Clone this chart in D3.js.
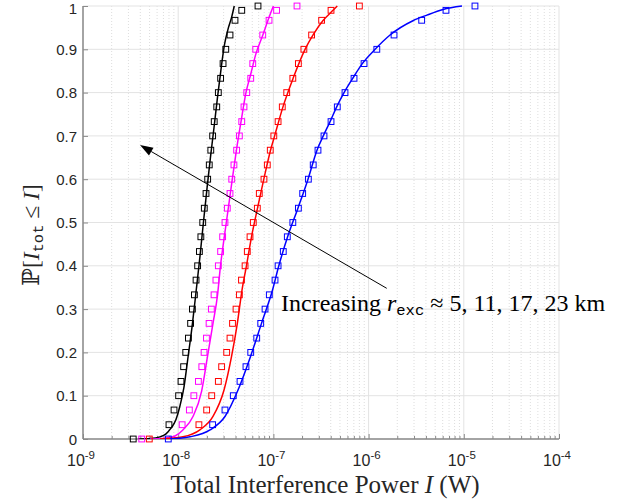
<!DOCTYPE html>
<html><head><meta charset="utf-8">
<script src="https://cdn.jsdelivr.net/npm/d3@7"></script>
<style>body{margin:0;background:#fff;} svg{display:block;}</style>
</head><body>
<svg id="chart" width="618" height="503"></svg>
<script>
// ---------- data ----------
const markerProb = [0,0.033,0.067,0.1,0.133,0.167,0.2,0.233,0.267,0.3,0.333,0.367,0.4,0.433,0.467,0.5,0.533,0.567,0.6,0.633,0.667,0.7,0.733,0.767,0.8,0.833,0.867,0.9,0.933,0.967,0.99,1];
const blackMarkers = [3.37e-9,8.0e-9,9.04e-9,1.01e-8,1.07e-8,1.14e-8,1.20e-8,1.28e-8,1.35e-8,1.41e-8,1.48e-8,1.54e-8,1.60e-8,1.67e-8,1.73e-8,1.81e-8,1.88e-8,1.96e-8,2.04e-8,2.12e-8,2.20e-8,2.30e-8,2.39e-8,2.54e-8,2.64e-8,2.79e-8,2.96e-8,3.16e-8,3.50e-8,3.95e-8,4.65e-8,6.89e-8];
const magentaMarkers = [4.14e-9,1.10e-8,1.31e-8,1.46e-8,1.63e-8,1.77e-8,1.87e-8,1.98e-8,2.11e-8,2.23e-8,2.38e-8,2.49e-8,2.64e-8,2.79e-8,2.93e-8,3.10e-8,3.28e-8,3.50e-8,3.65e-8,3.85e-8,4.11e-8,4.39e-8,4.65e-8,4.91e-8,5.25e-8,5.78e-8,6.07e-8,6.52e-8,7.73e-8,9.0e-8,1.08e-7,1.77e-7];
const redMarkers = [4.97e-9,1.65e-8,1.99e-8,2.25e-8,2.64e-8,2.86e-8,3.23e-8,3.50e-8,3.72e-8,4.05e-8,4.39e-8,4.62e-8,5.04e-8,5.32e-8,5.68e-8,6.15e-8,6.78e-8,7.11e-8,7.96e-8,8.63e-8,9.27e-8,1.01e-7,1.12e-7,1.24e-7,1.38e-7,1.60e-7,1.83e-7,2.09e-7,2.52e-7,3.21e-7,4.03e-7,8.0e-7];
const blueMarkers = [7.87e-9,2.30e-8,3.10e-8,3.79e-8,4.46e-8,5.15e-8,5.78e-8,6.68e-8,7.36e-8,8.17e-8,9.06e-8,1.04e-7,1.12e-7,1.27e-7,1.40e-7,1.60e-7,1.83e-7,2.03e-7,2.33e-7,2.62e-7,2.94e-7,3.40e-7,4.03e-7,4.69e-7,5.65e-7,7.03e-7,8.96e-7,1.22e-6,1.85e-6,3.61e-6,6.5e-6,1.31e-5];

const blackLineX = [3.78e-9,5.06e-9,6.44e-9,7.45e-9,8.40e-9,9.48e-9,1.04e-8,1.15e-8,1.27e-8,1.40e-8,1.54e-8,1.69e-8,1.84e-8,2.01e-8,2.18e-8,2.38e-8,2.59e-8,2.82e-8,3.06e-8,3.37e-8,3.65e-8,3.88e-8];
const blackLineP = [0,0.001,0.005,0.012,0.025,0.045,0.075,0.12,0.19,0.26,0.34,0.42,0.5,0.58,0.65,0.72,0.79,0.855,0.91,0.95,0.975,1];
const magentaLineX = [5.06e-9,7.27e-9,9.25e-9,1.12e-8,1.43e-8,1.76e-8,2.03e-8,2.32e-8,2.59e-8,2.78e-8,3.05e-8,3.36e-8,3.70e-8,4.09e-8,4.57e-8,5.15e-8,5.74e-8,6.56e-8,7.78e-8,8.77e-8,9.60e-8,1.0e-7];
const magentaLineP = [0,0.002,0.007,0.021,0.052,0.11,0.19,0.267,0.333,0.4,0.467,0.533,0.6,0.667,0.733,0.8,0.84,0.89,0.934,0.967,0.99,1];
const redLineX = [6.44e-9,1.12e-8,1.69e-8,2.32e-8,3.03e-8,3.63e-8,4.18e-8,4.68e-8,5.21e-8,5.89e-8,6.81e-8,7.93e-8,9.33e-8,1.03e-7,1.26e-7,1.61e-7,2.15e-7,2.62e-7,3.34e-7,4.23e-7,4.69e-7];
const redLineP = [0,0.005,0.021,0.052,0.113,0.19,0.267,0.344,0.4,0.467,0.533,0.6,0.667,0.7,0.767,0.833,0.9,0.934,0.967,0.99,1];
const blueLineX = [8.20e-9,1.33e-8,2.16e-8,3.10e-8,4.25e-8,5.74e-8,7.50e-8,9.79e-8,1.14e-7,1.41e-7,1.81e-7,2.31e-7,2.87e-7,3.34e-7,3.94e-7,4.62e-7,5.52e-7,6.81e-7,8.59e-7,1.17e-6,1.68e-6,2.92e-6,4.10e-6,6.05e-6,9.57e-6];
const blueLineP = [0,0.005,0.021,0.052,0.113,0.19,0.267,0.344,0.4,0.467,0.533,0.6,0.667,0.7,0.733,0.767,0.8,0.833,0.867,0.9,0.933,0.966,0.979,0.992,1];

const seriesColors = ["#000000","#ff00ff","#ff0000","#0000ff"];
const xTickValues = [1e-9,1e-8,1e-7,1e-6,1e-5,1e-4];
const xTickExponents = ["-9","-8","-7","-6","-5","-4"];
const yTickValues = [0,0.1,0.2,0.3,0.4,0.5,0.6,0.7,0.8,0.9,1];
const yTickLabels = ["0","0.1","0.2","0.3","0.4","0.5","0.6","0.7","0.8","0.9","1"];
const arrowFrom = [1.55e-6, 0.348];
const arrowTo = [3.97e-9, 0.679];

// ---------- layout ----------
const plotL = 83, plotR = 559, plotT = 6, plotB = 439;
const x = d3.scaleLog().domain([1e-9,1e-4]).range([plotL, plotR]);
const y = d3.scaleLinear().domain([0,1]).range([plotB, plotT]);
const svg = d3.select("#chart");
const sans = "'Liberation Sans', Arial, Helvetica, sans-serif";
const serif = "'Liberation Serif', 'DejaVu Serif', serif";
const mono = "'Liberation Mono', 'DejaVu Sans Mono', monospace";

svg.append("defs").append("clipPath").attr("id","clip")
  .append("rect").attr("x",plotL).attr("y",plotT-1).attr("width",plotR-plotL).attr("height",plotB-plotT+1);

// grid
const allTicks = x.ticks();
const minorTicks = allTicks.filter(v => !xTickValues.some(t => Math.abs(v/t-1) < 1e-6));
const grid = svg.append("g");
grid.selectAll(".minor").data(minorTicks).join("line")
  .attr("x1", d=>x(d)).attr("x2", d=>x(d)).attr("y1", plotT).attr("y2", plotB)
  .attr("stroke","#d4d4d4").attr("stroke-width",0.8).attr("stroke-dasharray","1,2");
grid.selectAll(".majx").data(xTickValues).join("line")
  .attr("x1", d=>x(d)).attr("x2", d=>x(d)).attr("y1", plotT).attr("y2", plotB)
  .attr("stroke","#e3e3e3").attr("stroke-width",1);
grid.selectAll(".majy").data(yTickValues).join("line")
  .attr("x1", plotL).attr("x2", plotR).attr("y1", d=>y(d)).attr("y2", d=>y(d))
  .attr("stroke","#e3e3e3").attr("stroke-width",1);

// axes
const axisColor = "#8a8a8a";
const xAxis = d3.axisBottom(x).tickValues(xTickValues).tickSize(-5).tickFormat("");
const gx = svg.append("g").attr("transform",`translate(0,${plotB})`).call(xAxis);
gx.select(".domain").attr("stroke",axisColor).attr("stroke-width",1.5).attr("d",`M${plotL},0H${plotR}`);
gx.selectAll(".tick line").attr("stroke",axisColor);
const gxm = svg.append("g").attr("transform",`translate(0,${plotB})`)
  .call(d3.axisBottom(x).tickValues(minorTicks).tickSize(-3).tickFormat(""));
gxm.select(".domain").remove();
gxm.selectAll(".tick line").attr("stroke",axisColor);

const yAxis = d3.axisLeft(y).tickValues(yTickValues).tickSize(-5).tickFormat("");
const gy = svg.append("g").attr("transform",`translate(${plotL},0)`).call(yAxis);
gy.select(".domain").attr("stroke",axisColor).attr("stroke-width",1.5).attr("d",`M0,${plotT}V${plotB}`);
gy.selectAll(".tick line").attr("stroke",axisColor);

// tick labels
const yl = svg.append("g");
yl.selectAll("text").data(yTickValues).join("text")
  .attr("x", plotL-6).attr("y", d=>Math.max(y(d)+5.6, 14)).attr("text-anchor","end")
  .attr("font-family",sans).attr("font-size",15).attr("fill","#262626")
  .text((d,i)=>yTickLabels[i]);
const xl = svg.append("g");
xTickValues.forEach((v,i)=>{
  const t = xl.append("text").attr("x", x(v)-2).attr("y", plotB+27).attr("text-anchor","middle")
    .attr("font-family",sans).attr("font-size",16).attr("fill","#262626");
  t.append("tspan").text("10");
  t.append("tspan").attr("font-size",11.5).attr("dy",-7).text(xTickExponents[i]);
});

// lines
const lineGen = d3.line().x(d=>x(d[0])).y(d=>y(d[1])).curve(d3.curveMonotoneX);
const lines = [[blackLineX,blackLineP],[magentaLineX,magentaLineP],[redLineX,redLineP],[blueLineX,blueLineP]];
const gl = svg.append("g").attr("clip-path","url(#clip)");
lines.forEach((s,i)=>{
  const pts = s[0].map((v,j)=>[v, s[1][j]]);
  gl.append("path").attr("d", lineGen(pts)).attr("fill","none")
    .attr("stroke", seriesColors[i]).attr("stroke-width",1.5);
});

// markers
const markerSets = [blackMarkers, magentaMarkers, redMarkers, blueMarkers];
const ms = 5.8;
markerSets.forEach((arr,i)=>{
  svg.append("g").selectAll("rect").data(arr.map((v,j)=>[v, markerProb[j]])).join("rect")
    .attr("x", d=>x(d[0])-ms/2).attr("y", d=>y(d[1])-ms/2)
    .attr("width", ms).attr("height", ms)
    .attr("fill","none").attr("stroke", seriesColors[i]).attr("stroke-width",1);
});

// arrow
const ax1 = x(arrowFrom[0]), ay1 = y(arrowFrom[1]), ax2 = x(arrowTo[0]), ay2 = y(arrowTo[1]);
const ang = Math.atan2(ay2-ay1, ax2-ax1);
const hl = 13, hw = 4.5;
const bx = ax2 - hl*Math.cos(ang), by = ay2 - hl*Math.sin(ang);
svg.append("line").attr("x1",ax1).attr("y1",ay1).attr("x2",bx).attr("y2",by)
  .attr("stroke","#000").attr("stroke-width",1);
svg.append("path")
  .attr("d",`M${ax2},${ay2}L${bx + hw*Math.sin(ang)},${by - hw*Math.cos(ang)}L${bx - hw*Math.sin(ang)},${by + hw*Math.cos(ang)}Z`)
  .attr("fill","#000");

// annotation
const ann = svg.append("text").attr("x",281).attr("y",310.5)
  .attr("font-family",serif).attr("font-size",24).attr("fill","#000");
ann.append("tspan").text("Increasing ");
ann.append("tspan").attr("font-style","italic").text("r");
ann.append("tspan").attr("font-family",mono).attr("font-size",15.5).attr("dy",4).text("exc");
ann.append("tspan").attr("dy",-4).text(" \u2248 5, 11, 17, 23 km");

// x label
const xt = svg.append("text").attr("x",(plotL+plotR)/2 + 4).attr("y",493).attr("text-anchor","middle")
  .attr("font-family",serif).attr("font-size",25).attr("fill","#262626");
xt.append("tspan").text("Total Interference Power ");
xt.append("tspan").attr("font-style","italic").text("I");
xt.append("tspan").text(" (W)");

// y label
const yt = svg.append("text").attr("transform",`translate(39,235) rotate(-90)`).attr("text-anchor","middle")
  .attr("font-family",serif).attr("font-size",23.5).attr("fill","#262626");
yt.append("tspan").text("\u2119[");
yt.append("tspan").attr("font-style","italic").text("I");
yt.append("tspan").attr("font-family",mono).attr("font-size",15.5).attr("dy",4).text("tot");
yt.append("tspan").attr("dy",-4).text(" \u2264 ");
yt.append("tspan").attr("font-style","italic").text("I");
yt.append("tspan").text("]");
</script>
</body></html>
